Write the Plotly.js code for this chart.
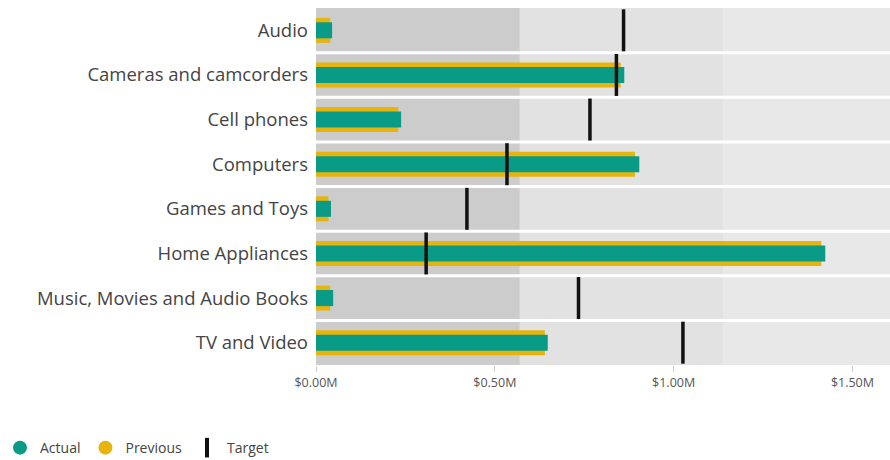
<!DOCTYPE html>
<html>
<head>
<meta charset="utf-8">
<script src="https://cdn.plot.ly/plotly-3.0.1.min.js"></script>
<style>html,body{margin:0;padding:0;background:#fff;}#chart{width:890px;height:460px;}</style>
</head>
<body>
<div id="chart"></div>
<script>
// Data (values in $M)
const categories = ["Audio","Cameras and camcorders","Cell phones","Computers","Games and Toys","Home Appliances","Music, Movies and Audio Books","TV and Video"];
const actual   = [0.045, 0.862, 0.238, 0.904, 0.042, 1.424, 0.048, 0.648];
const previous = [0.040, 0.852, 0.230, 0.892, 0.035, 1.413, 0.040, 0.640];
const target   = [0.860, 0.840, 0.766, 0.534, 0.422, 0.308, 0.734, 1.026];
const bandEdges = [0, 0.57, 1.14, 1.61];
const tickVals = [0, 0.5, 1.0, 1.5];
const tickText = ["$0.00M","$0.50M","$1.00M","$1.50M"];

const teal = "#0A9B86", yellow = "#E6B40C";
const bandColors = ["#CCCCCC","#E2E2E2","#E8E8E8"];

const shapes = [];
for (let i = 0; i < bandEdges.length - 1; i++) {
  shapes.push({type:"rect", xref:"x", yref:"paper", x0:bandEdges[i], x1:bandEdges[i+1], y0:0, y1:1,
    fillcolor:bandColors[i], line:{width:0}, layer:"below"});
}
for (let i = 0; i < categories.length - 1; i++) {
  shapes.push({type:"line", xref:"paper", yref:"y", x0:0, x1:1, y0:i+0.5, y1:i+0.5,
    line:{color:"#FFFFFF", width:3}, layer:"below"});
}

const data = [
  {type:"bar", orientation:"h", name:"Previous", y:categories, x:previous, width:0.56,
   marker:{color:yellow}, showlegend:false, hoverinfo:"x"},
  {type:"bar", orientation:"h", name:"Actual", y:categories, x:actual, width:0.36,
   marker:{color:teal}, showlegend:false, hoverinfo:"x"},
  {type:"scatter", mode:"markers", name:"Target", y:categories, x:target,
   marker:{symbol:"line-ns", size:30, color:"#111", line:{color:"#111", width:3.5}}, showlegend:false},
  {type:"scatter", mode:"markers", name:"Actual", x:[null], y:[null],
   marker:{symbol:"circle", size:14, color:teal}},
  {type:"scatter", mode:"markers", name:"Previous", x:[null], y:[null],
   marker:{symbol:"circle", size:14, color:yellow}},
  {type:"scatter", mode:"markers", name:"Target", x:[null], y:[null],
   marker:{symbol:"line-ns", size:14, color:"#111", line:{color:"#111", width:4}}}
];

const layout = {
  width:890, height:460,
  margin:{l:316, r:0, t:8, b:95},
  paper_bgcolor:"#FFFFFF", plot_bgcolor:"#FFFFFF",
  barmode:"overlay",
  font:{family:"Open Sans, sans-serif", color:"#444"},
  xaxis:{range:[0,1.605], tickvals:tickVals, ticktext:tickText, showgrid:false, zeroline:false,
    ticks:"outside", ticklen:6, tickcolor:"#CFCFCF", tickfont:{size:12.5, color:"#555"}, fixedrange:true},
  yaxis:{type:"category", categoryorder:"array", categoryarray:categories, range:[7.5,-0.5],
    showgrid:false, zeroline:false, ticks:"", ticklabelstandoff:7,
    tickfont:{size:18.5, color:"#444"}},
  shapes:shapes,
  showlegend:true,
  legend:{orientation:"h", xref:"container", yref:"container", x:-0.006, y:0.026, xanchor:"left", yanchor:"middle",
    font:{size:14, color:"#444"}, itemwidth:30, tracegroupgap:0, bgcolor:"rgba(0,0,0,0)"}
};

Plotly.newPlot("chart", data, layout, {displayModeBar:false, staticPlot:true});
</script>
</body>
</html>
